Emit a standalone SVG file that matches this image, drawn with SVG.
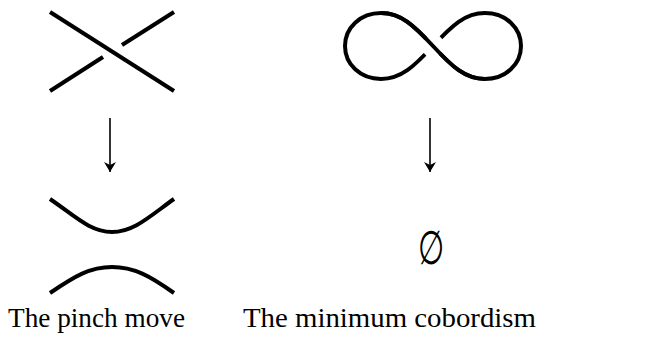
<svg xmlns="http://www.w3.org/2000/svg" width="646" height="338" viewBox="0 0 646 338">
<defs>
<style>
.k{fill:none;stroke:#000;stroke-width:4;stroke-linecap:butt}
.halo{fill:none;stroke:#fff;stroke-width:23;stroke-linecap:butt}
.a{stroke:#000;stroke-width:1.6;fill:none}
.t{font-family:"Liberation Serif","Times New Roman",serif;font-size:28px;fill:#000}
</style>
<marker id="ah" viewBox="0 0 10 15" refX="10" refY="7.5" markerWidth="10" markerHeight="15" markerUnits="userSpaceOnUse" orient="auto">
<path d="M0,1.5 L10,7.5 L0,13.5 L3,7.5 Z" fill="#000"/>
</marker>
</defs>
<g id="crossing">
<line class="k" x1="50" y1="12" x2="174" y2="91"/>
<line class="k" x1="50" y1="91" x2="103" y2="57"/>
<line class="k" x1="122" y1="45" x2="174" y2="12"/>
</g>
<g id="infinity">
<path class="k" d="M433,46 C452,25.5 465,13 485,13 C505.8,13 521,27.8 521,46 C521,64.2 505.8,79 485,79 C465,79 452,66.5 433,46 C414,25.5 401,13 381,13 C360.2,13 345,27.8 345,46 C345,64.2 360.2,79 381,79 C401,79 414,66.5 433,46 Z"/>
<line class="halo" x1="426.1" y1="38.7" x2="439.9" y2="53.3"/>
<path class="k" d="M485,79 C465,79 452,66.5 433,46 C414,25.5 401,13 381,13"/>
</g>
<g id="smoothing">
<path class="k" d="M50,199 C75,216 90,232 112,232 C134,232 150,216 174,199"/>
<path class="k" d="M50,293 C75,276 90,267 112,267 C134,267 150,276 174,293"/>
</g>
<g id="emptyset">
<text x="431" y="264" text-anchor="middle" transform="translate(431 0) scale(0.64 1) translate(-431 0)" style="font-family:'DejaVu Serif',serif;font-size:47px">∅</text>
</g>
<g id="connectors">
<line class="a" x1="110" y1="118" x2="110" y2="172" marker-end="url(#ah)"/>
<line class="a" x1="430" y1="118" x2="430" y2="172" marker-end="url(#ah)"/>
</g>
<g id="captions">
<text class="t" x="8" y="327" textLength="177" lengthAdjust="spacingAndGlyphs">The pinch move</text>
<text class="t" x="243" y="327" textLength="293" lengthAdjust="spacingAndGlyphs">The minimum cobordism</text>
</g>
</svg>
